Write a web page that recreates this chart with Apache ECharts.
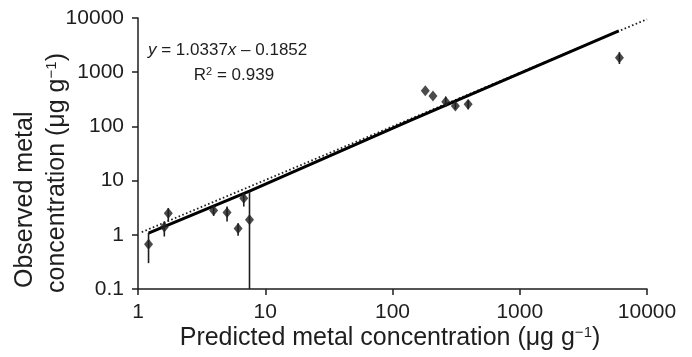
<!DOCTYPE html>
<html>
<head>
<meta charset="utf-8">
<script src="https://cdn.jsdelivr.net/npm/echarts@6/dist/echarts.min.js"></script>
<style>html,body{margin:0;padding:0;background:#fff;}#c{width:692px;height:357px;}</style>
</head>
<body>
<div id="c"></div>
<script>
// Data
var predicted = [1.21, 1.61, 1.73, 3.93, 5.01, 6.12, 6.78, 7.52, 181, 208, 262, 312, 393, 6070];
var observed  = [0.67, 1.39, 2.51, 2.80, 2.58, 1.31, 4.74, 1.89, 454, 363, 285, 238, 255, 1842];
var errLow    = [0.30, 0.93, 1.76, 2.24, 1.76, 0.96, 3.32, 0.10, 454, 363, 230, 207, 207, 1420];
var errHigh   = [1.08, 1.76, 3.10, 3.42, 3.32, 1.64, 5.86, 6.27, 454, 363, 355, 273, 305, 2350];
var fitSolid  = [[1.21, 1.07], [7.52, 6.4], [140, 131], [6000, 5790]];
var fitDotted = [[1.07, 1.12], [10000, 9500]];
var xTicks = [1, 10, 100, 1000, 10000];
var yTicks = [0.1, 1, 10, 100, 1000, 10000];

var pts = predicted.map(function (x, i) { return [x, observed[i]]; });
var errs = predicted.map(function (x, i) { return [x, observed[i], errLow[i], errHigh[i]]; });

var FONT = 'Liberation Sans, Arial, Helvetica, sans-serif';
var INK = '#1e1e1e';

var chart = echarts.init(document.getElementById('c'), null, {renderer: 'canvas'});
chart.setOption({
  animation: false,
  backgroundColor: '#fff',
  grid: {left: 138, right: 45, top: 18, bottom: 68, containLabel: false},
  xAxis: {
    type: 'log', logBase: 10, min: xTicks[0], max: xTicks[xTicks.length - 1],
    axisLine: {show: true, lineStyle: {color: INK, width: 1.5}},
    axisTick: {show: true, inside: false, length: 6, lineStyle: {color: INK, width: 1.5}},
    minorTick: {show: false},
    splitLine: {show: false},
    axisLabel: {color: INK, fontSize: 21, fontFamily: FONT, margin: 13,
      formatter: function (v) { return String(+v.toPrecision(6)); }}
  },
  yAxis: {
    type: 'log', logBase: 10, min: yTicks[0], max: yTicks[yTicks.length - 1],
    axisLine: {show: true, lineStyle: {color: INK, width: 1.5}},
    axisTick: {show: true, inside: false, length: 6, lineStyle: {color: INK, width: 1.5}},
    minorTick: {show: false},
    splitLine: {show: false},
    axisLabel: {color: INK, fontSize: 21, fontFamily: FONT, margin: 14,
      formatter: function (v) { return String(+v.toPrecision(6)); }}
  },
  series: [
    {
      type: 'line', data: fitDotted, symbol: 'none', z: 2,
      lineStyle: {color: INK, width: 1.8, type: [1.6, 2.4]}
    },
    {
      type: 'line', data: fitSolid, symbol: 'none', z: 3,
      lineStyle: {color: '#000', width: 3}
    },
    {
      type: 'custom', data: errs, z: 4, clip: true,
      encode: {x: 0, y: [1, 2, 3]},
      renderItem: function (params, api) {
        var x = api.value(0);
        var a = api.coord([x, api.value(2)]);
        var b = api.coord([x, api.value(3)]);
        return {type: 'line', shape: {x1: a[0], y1: a[1], x2: b[0], y2: b[1]},
          style: {stroke: INK, lineWidth: 1.6}};
      }
    },
    {
      type: 'scatter', data: pts, symbol: 'diamond', symbolSize: [9, 11], z: 5,
      itemStyle: {color: INK}
    }
  ],
  graphic: [
    {type: 'text', x: 148, y: 50, style: {
      text: '{i|y} = 1.0337{i|x} – 0.1852', fill: INK, font: '17px ' + FONT,
      textAlign: 'left', textVerticalAlign: 'middle',
      rich: {i: {fontStyle: 'italic', fontSize: 17, fontFamily: FONT, fill: INK}}
    }},
    {type: 'text', x: 234, y: 75, style: {
      text: 'R{s|2} = 0.939', fill: INK, font: '17px ' + FONT,
      textAlign: 'center', textVerticalAlign: 'middle',
      rich: {s: {fontSize: 11, fontFamily: FONT, fill: INK, verticalAlign: 'top', lineHeight: 17}}
    }},
    {type: 'text', x: 390, y: 338, style: {
      text: 'Predicted metal concentration (μg g{s|−1})', fill: INK, font: '25px ' + FONT,
      textAlign: 'center', textVerticalAlign: 'middle',
      rich: {s: {fontSize: 15, fontFamily: FONT, fill: INK, verticalAlign: 'top', lineHeight: 25}}
    }},
    {type: 'text', x: 25, y: 288, rotation: Math.PI / 2, style: {
      text: 'Observed metal', fill: INK, font: '25px ' + FONT,
      textAlign: 'left', textVerticalAlign: 'middle'
    }},
    {type: 'text', x: 57, y: 293, rotation: Math.PI / 2, style: {
      text: 'concentration (μg g{s|−1})', fill: INK, font: '25px ' + FONT,
      textAlign: 'left', textVerticalAlign: 'middle',
      rich: {s: {fontSize: 15, fontFamily: FONT, fill: INK, verticalAlign: 'top', lineHeight: 25}}
    }}
  ]
});
</script>
</body>
</html>
